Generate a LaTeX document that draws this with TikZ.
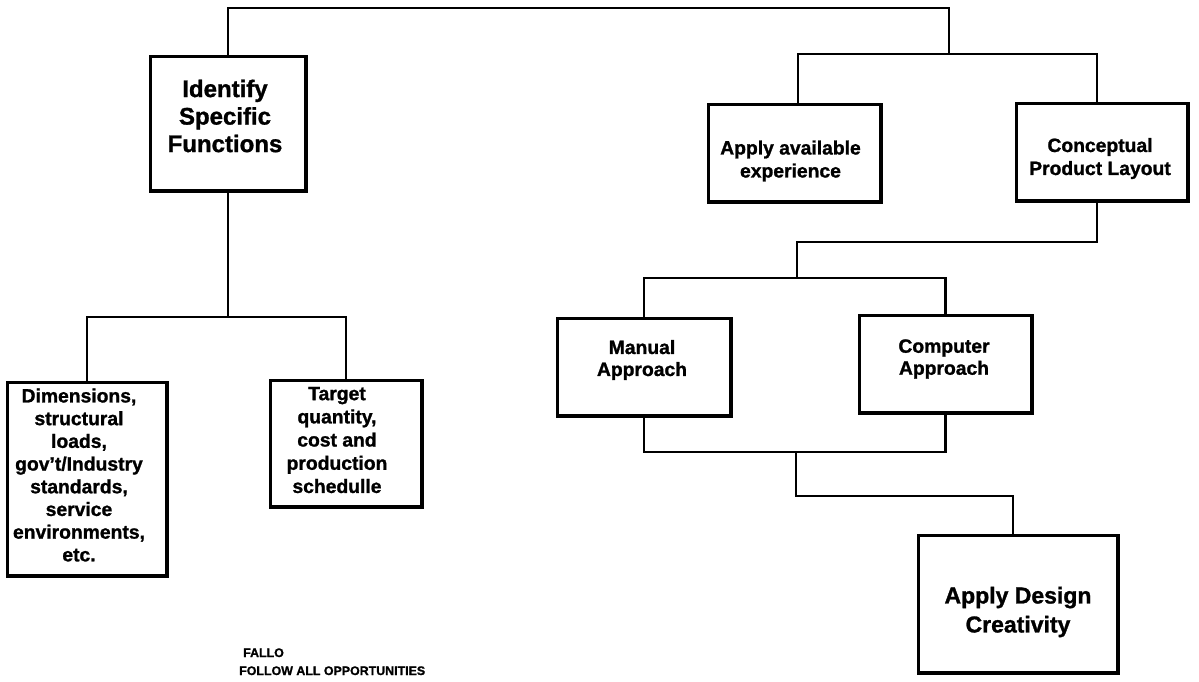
\documentclass[tikz,border=0pt]{standalone}
\usepackage{fontspec}
\setmainfont{Liberation Sans}[BoldFeatures={FakeBold=1.2}]
\usetikzlibrary{calc}
\begin{document}
\begin{tikzpicture}[x=1pt,y=-1pt,
  box/.style={draw, line width=3pt, inner sep=0pt, fill=white},
  wire/.style={line width=2.6pt, line join=miter},
  lbl/.style={align=center, inner sep=0pt, font=\bfseries\fontsize{19.3}{23}\selectfont},
  note/.style={anchor=base west, inner sep=0pt, font=\bfseries\fontsize{12.4}{14}\selectfont},
  rim/.style={line width=1.6pt, line join=miter},
]
\useasboundingbox (0,0) rectangle (1199,681);

% ---- boxes ----
\node[box, minimum width=155pt, minimum height=134pt] (ident)   at (228,123.5) {};
\node[box, minimum width=159pt, minimum height=193pt] (dim)     at (87,479)    {};
\node[box, minimum width=151pt, minimum height=126pt] (target)  at (346,443.5) {};
\node[box, minimum width=172pt, minimum height=97pt]  (appl)    at (794.5,153) {};
\node[box, minimum width=171pt, minimum height=97pt]  (concept) at (1102,152)  {};
\node[box, minimum width=173pt, minimum height=97pt]  (manual)  at (644,367)   {};
\node[box, minimum width=172pt, minimum height=97pt]  (comp)    at (945.5,364) {};
\node[box, minimum width=199pt, minimum height=137pt] (design)  at (1018,604)  {};

% heavier right and bottom edges of every box (anchors sit on the outer edge of the frame)
\foreach \b in {ident,dim,target,appl,concept,manual,comp,design}
  \draw[rim] ($(\b.north east)+(0.6,0)$) -- ($(\b.south east)+(0.6,0.6)$) -- ($(\b.south west)+(0,0.6)$);

% ---- box texts ----
\node[lbl, font=\bfseries\fontsize{24}{27.5}\selectfont] (identT) at ($(ident)+(-3,-7.5)$) {Identify\\Specific\\Functions};
\node[lbl, font=\bfseries\fontsize{19.3}{22.7}\selectfont] (dimT) at ($(dim)+(-8,-4)$)
  {Dimensions,\\structural\\loads,\\gov't/Industry\\standards,\\service\\environments,\\etc.};
\node[lbl, font=\bfseries\fontsize{19.3}{23.2}\selectfont] (targetT) at ($(target)+(-9,-3.5)$)
  {Target\\quantity,\\cost and\\production\\schedulle};
\node[lbl] (applT)    at ($(appl)+(-4,8)$)      {Apply available\\experience};
\node[lbl] (conceptT) at ($(concept)+(-2,6.5)$) {Conceptual\\Product Layout};
\node[lbl, font=\bfseries\fontsize{19.3}{22}\selectfont] (manualT) at ($(manual)+(-2,-7)$) {Manual\\Approach};
\node[lbl, font=\bfseries\fontsize{19.3}{22}\selectfont] (compT)   at ($(comp)+(-1.5,-5)$) {Computer\\Approach};
\node[lbl, font=\bfseries\fontsize{23}{29}\selectfont] (designT) at ($(design)+(0,8)$) {Apply Design\\Creativity};

% ---- junction points ----
\coordinate (topbar) at (600,8);
\coordinate (jA) at (949,54);
\coordinate (jB) at (797,242);
\coordinate (jC) at (797,278);
\coordinate (jD) at (796,452);
\coordinate (jE) at (796,496);
\coordinate (jF) at (228,317);

% ---- connectors ----
\draw[wire] (ident.north) -- (ident.north |- topbar) -| (jA);
\draw[wire] ([xshift=3.5pt]appl.north) |- (jA) -| ([xshift=-5pt]concept.north);
\draw[wire] ([xshift=-5pt]concept.south) |- (jB) -- (jC);
\draw[wire] (manual.north) |- (jC) -| (comp.north);
\draw[wire] (manual.south) |- (jD) -| (comp.south);
\draw[wire] (jD) -- (jE) -| ([xshift=-5pt]design.north);
\draw[wire] (ident.south) -- (jF);
\draw[wire] (dim.north) |- (jF) -| (target.north);

% ---- footer ----
\node[note] (fallo)  at (243,657) {FALLO};
\node[note] (follow) at (239,675) {FOLLOW ALL OPPORTUNITIES};
\end{tikzpicture}
\end{document}
